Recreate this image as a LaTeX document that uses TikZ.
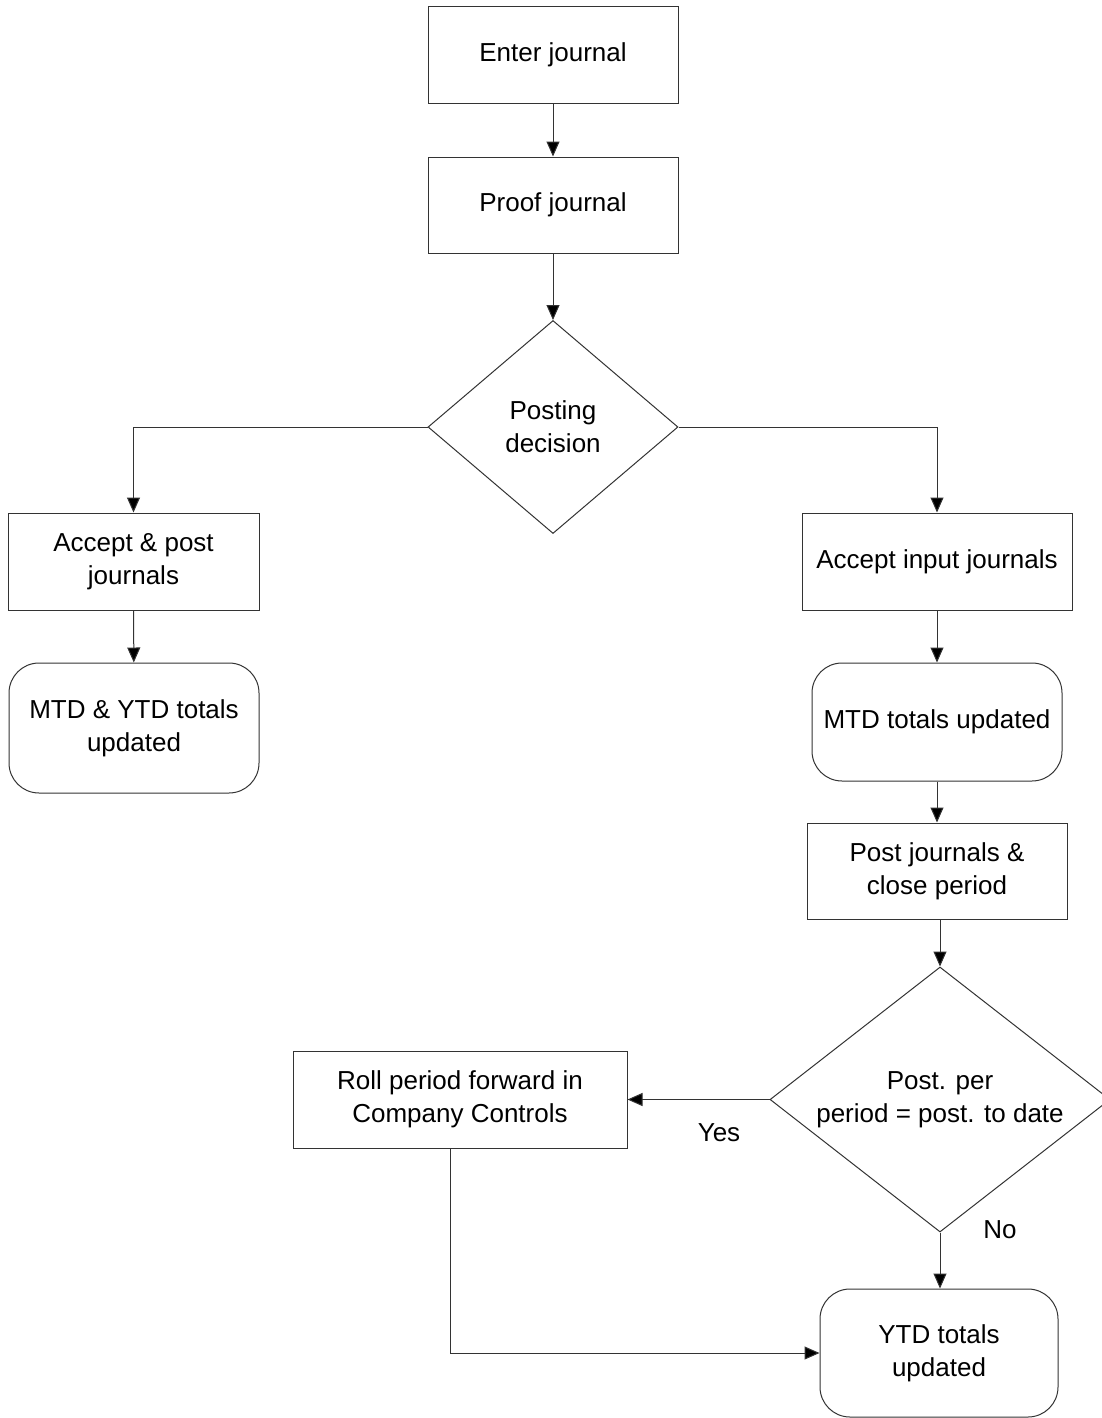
\documentclass[tikz,border=0pt]{standalone}
\usepackage{fontspec}
\setmainfont{Liberation Sans}
\usetikzlibrary{arrows.meta,shapes.geometric}
\begin{document}
\begin{tikzpicture}[x=0.5pt,y=-0.5pt,
  every node/.style={font=\fontsize{13}{16.5}\selectfont, align=center, inner sep=0pt},
  stepbox/.style={draw=black!80, line width=0.5pt, rectangle},
  endbox/.style={draw=black!80, line width=0.5pt, rectangle, rounded corners=15pt},
  decision/.style={draw=black!80, line width=0.5pt, diamond},
  flow/.style={draw=black!80, line width=0.5pt, -{Triangle[length=7.5pt,width=6.5pt,fill=black]}},
  plain/.style={draw=black!80, line width=0.5pt}]
\useasboundingbox (0,0) rectangle (1102,1418);
\fill[white] (0,0) rectangle (1102,1418);

% main column
\node[stepbox, minimum width=125pt, minimum height=48.5pt] (enter) at (553,55) {Enter journal};
\node[stepbox, minimum width=125pt, minimum height=48pt] (proof) at (553,205) {Proof journal};
\node[decision, minimum width=125pt, minimum height=106.5pt] (d1) at (553,427) {};
\node (d1t) at (553,427) {Posting\\decision};

% left branch
\node[stepbox, minimum width=125.5pt, minimum height=48.5pt] (acc) at (133.5,561.5) {Accept \& post\\journals};
\node[endbox, minimum width=125pt, minimum height=65pt] (mtdytd) at (134,728) {MTD \& YTD totals\\updated};

% right branch
\node[stepbox, minimum width=135pt, minimum height=48.5pt] (inp) at (937,561.5) {Accept input journals};
\node[endbox, minimum width=125pt, minimum height=59pt] (mtd) at (937,722) {MTD totals updated};
\node[stepbox, minimum width=130pt, minimum height=48pt] (post) at (937,871) {Post journals \&\\close period};
\node[decision, minimum width=170pt, minimum height=132.5pt] (d2) at (940,1099.5) {};
\node (d2t) at (940,1099.5) {Post. per\\period = post. to date};
\node[stepbox, minimum width=167pt, minimum height=48.5pt] (roll) at (460,1099.5) {Roll period forward in\\Company Controls};
\node[endbox, minimum width=119pt, minimum height=64pt] (ytd) at (939,1353) {YTD totals\\updated};

% branch labels
\node (yes) at (719,1133) {Yes};
\node (no) at (1000,1230) {No};

% connectors
\draw[flow] (enter) -- (proof);
\draw[flow] (proof) -- (d1.north);
\draw[flow] (d1.west) -| (acc.north);
\draw[flow] (d1.east) -| (inp.north);
\draw[flow] (acc) -- (mtdytd);
\draw[flow] (inp) -- (mtd);
\draw[flow] (mtd) -- (post);
\draw[flow] (post.south -| d2.north) -- (d2.north);
\draw[flow] (d2.west) -- (roll.east);
\draw[flow] (d2.south) -- (ytd.north -| d2.south);
\draw[flow] ([xshift=-5pt]roll.south) |- (ytd.west);
\end{tikzpicture}
\end{document}
